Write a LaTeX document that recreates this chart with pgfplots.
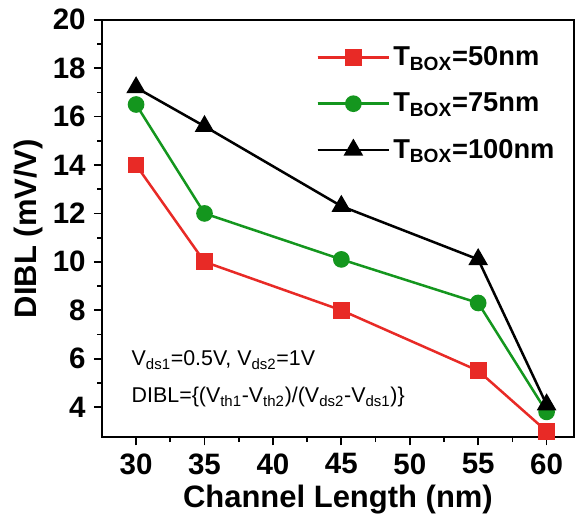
\documentclass[border=0pt]{standalone}
\usepackage{pgfplots}
\pgfplotsset{compat=1.18}
\usepackage{fontspec}
\setmainfont{Liberation Sans}
\definecolor{cred}{RGB}{232,42,38}
\definecolor{cgreen}{RGB}{20,150,30}
\begin{document}
\begin{tikzpicture}
\begin{axis}[
  scale only axis, width=320pt, height=283pt,
  xmin=27.5, xmax=62, ymin=2.75, ymax=20,
  xtick={30,35,...,60}, ytick={4,6,...,20},
  minor x tick num=1, minor y tick num=1,
  tick align=outside, xtick pos=bottom, ytick pos=left,
  major tick length=5.5pt, minor tick length=3.2pt,
  axis line style={line width=1.4pt}, tick style={line width=1.2pt, black},
  ticklabel style={font=\fontsize{20}{22}\selectfont\bfseries},
  yticklabel style={xshift=-2pt},
  xticklabel style={yshift=-2pt},
  /pgf/number format/assume math mode=true,
  xlabel={\fontsize{21}{24}\selectfont\bfseries Channel Length (nm)},
  ylabel={\fontsize{21}{24}\selectfont\bfseries DIBL (mV/V)},
  legend style={draw=none, fill=none, at={(0.975,0.95)}, anchor=north east,
    font=\fontsize{18.5}{21}\selectfont\bfseries, row sep=13pt},
  legend cell align=left,
  legend image code/.code={\draw[#1] (0cm,0cm) -- (1.7cm,0cm); \draw[#1, mark repeat=2, mark phase=2] plot coordinates {(0cm,0cm) (0.85cm,0cm) (1.7cm,0cm)};},
]
\addplot[cred, line width=1.7pt, mark=square*, mark size=4.8pt] coordinates {(30,14) (35,10) (45,8) (55,5.5) (60,3)};
\addlegendentry{T\textsubscript{BOX}=50nm}
\addplot[cgreen, line width=1.7pt, mark=*, mark size=4.8pt] coordinates {(30,16.5) (35,12) (45,10.1) (55,8.3) (60,3.8)};
\addlegendentry{T\textsubscript{BOX}=75nm}
\addplot[black, line width=1.7pt, mark=triangle*, mark size=6pt] coordinates {(30,17.2) (35,15.6) (45,12.3) (55,10.1) (60,4.1)};
\addlegendentry{T\textsubscript{BOX}=100nm}
\node[anchor=west, font=\fontsize{14.5}{17}\selectfont] at (axis cs:29.3,5.95) {V\textsubscript{ds1}=0.5V, V\textsubscript{ds2}=1V};
\node[anchor=west, font=\fontsize{14.5}{17}\selectfont] at (axis cs:29.3,4.4) {DIBL=\{(V\textsubscript{th1}-V\textsubscript{th2})/(V\textsubscript{ds2}-V\textsubscript{ds1})\}};
\end{axis}
\path ([xshift=-6pt]current bounding box.west);
\path ([yshift=3pt]current bounding box.north);
\end{tikzpicture}
\end{document}
